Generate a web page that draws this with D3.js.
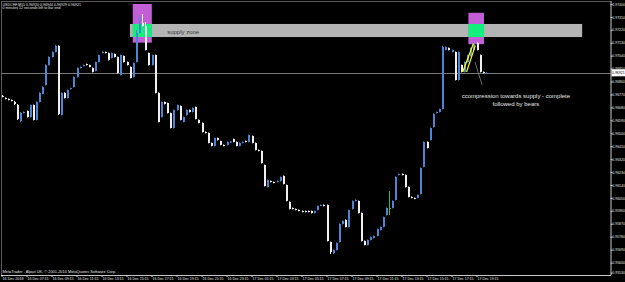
<!DOCTYPE html>
<html><head><meta charset="utf-8">
<script src="https://cdn.jsdelivr.net/npm/d3@7"></script>
<style>html,body{margin:0;padding:0;background:#000;overflow:hidden}svg{display:block}</style>
</head><body><svg id="c" width="625" height="282"></svg>
<script>
const opens = [0.96760,0.96746,0.96739,0.96732,0.96718,0.96697,0.96586,0.96641,0.96655,0.96613,
0.96697,0.96593,0.96718,0.96774,0.96836,0.96975,0.97031,0.97066,0.97108,0.96627,
0.96781,0.96746,0.96808,0.96822,0.96892,0.96955,0.96968,0.96982,0.96975,0.96955,
0.96934,0.96996,0.97059,0.97066,0.97059,0.97024,0.97052,0.97031,0.96906,0.97038,
0.96996,0.96962,0.96892,0.96996,0.97198,0.97268,0.97247,0.97059,0.96975,0.97045,
0.96781,0.96613,0.96718,0.96711,0.96641,0.96537,0.96662,0.96690,0.96579,0.96627,
0.96662,0.96648,0.96683,0.96593,0.96572,0.96509,0.96502,0.96433,0.96412,0.96467,
0.96446,0.96419,0.96419,0.96436,0.96460,0.96440,0.96412,0.96433,0.96446,0.96440,
0.96481,0.96433,0.96384,0.96377,0.96279,0.96126,0.96168,0.96161,0.96161,0.96168,
0.96203,0.96140,0.96022,0.95980,0.95973,0.95966,0.95959,0.95959,0.95959,0.95959,
0.95945,0.95966,0.95997,0.96001,0.96001,0.95743,0.95667,0.95688,0.95743,0.95869,
0.95897,0.95848,0.95973,0.96029,0.96029,0.95945,0.95750,0.95722,0.95757,0.95771,
0.95785,0.95827,0.95848,0.95931,0.95980,0.95980,0.96036,0.96210,0.96217,0.96210,
0.96126,0.96057,0.96050,0.96050,0.96078,0.96266,0.96440,0.96453,0.96544,0.96641,
0.96648,0.96669,0.97080,0.97094,0.97066,0.97066,0.96871,0.96975,0.96927,0.96996,
0.97038,0.97080,0.97129,0.97045,0.96927,0.96915];
const closes = [0.96753,0.96739,0.96732,0.96725,0.96704,0.96600,0.96641,0.96648,0.96613,0.96697,
0.96593,0.96718,0.96781,0.96822,0.96975,0.97031,0.97066,0.97108,0.96634,0.96781,
0.96746,0.96801,0.96815,0.96892,0.96955,0.96962,0.96975,0.96975,0.96962,0.96927,
0.96996,0.97045,0.97066,0.97059,0.97010,0.97059,0.97031,0.96920,0.97045,0.96996,
0.96975,0.96885,0.96989,0.97198,0.97268,0.97247,0.97080,0.96975,0.97045,0.96781,
0.96579,0.96718,0.96704,0.96641,0.96537,0.96662,0.96697,0.96593,0.96613,0.96662,
0.96648,0.96676,0.96600,0.96572,0.96509,0.96502,0.96433,0.96412,0.96467,0.96453,
0.96419,0.96412,0.96440,0.96443,0.96440,0.96412,0.96433,0.96440,0.96440,0.96488,
0.96433,0.96384,0.96377,0.96293,0.96133,0.96175,0.96161,0.96155,0.96168,0.96196,
0.96147,0.96029,0.95973,0.95973,0.95966,0.95960,0.95952,0.95952,0.95952,0.95945,
0.95959,0.95994,0.96001,0.95994,0.95750,0.95674,0.95688,0.95736,0.95869,0.95890,
0.95848,0.95966,0.96029,0.96036,0.95945,0.95750,0.95722,0.95757,0.95778,0.95785,
0.95834,0.95848,0.95917,0.95980,0.95980,0.96029,0.96196,0.96217,0.96210,0.96126,
0.96057,0.96050,0.96044,0.96071,0.96259,0.96440,0.96398,0.96537,0.96634,0.96648,
0.96669,0.97101,0.97101,0.97080,0.97080,0.96871,0.97066,0.96927,0.96996,0.97045,
0.97094,0.97129,0.97080,0.96927,0.96920,0.96921];
const highs = [0.96767,0.96750,0.96742,0.96735,0.96725,0.96704,0.96648,0.96652,0.96658,0.96700,
0.96700,0.96722,0.96785,0.96826,0.96980,0.97035,0.97070,0.97115,0.97112,0.96785,
0.96785,0.96805,0.96818,0.96895,0.96958,0.96966,0.96978,0.96985,0.96978,0.96958,
0.96999,0.97048,0.97070,0.97069,0.97062,0.97062,0.97055,0.97034,0.97048,0.97041,
0.96999,0.96965,0.96992,0.97219,0.97323,0.97330,0.97275,0.97062,0.97048,0.97048,
0.96784,0.96721,0.96721,0.96714,0.96644,0.96665,0.96700,0.96693,0.96616,0.96665,
0.96665,0.96679,0.96686,0.96596,0.96575,0.96512,0.96505,0.96436,0.96470,0.96470,
0.96449,0.96422,0.96443,0.96446,0.96463,0.96443,0.96436,0.96443,0.96449,0.96491,
0.96484,0.96436,0.96387,0.96380,0.96282,0.96178,0.96171,0.96164,0.96171,0.96199,
0.96206,0.96143,0.96025,0.95983,0.95976,0.95969,0.95962,0.95962,0.95962,0.95962,
0.95962,0.95997,0.96004,0.96004,0.96004,0.95746,0.95691,0.95739,0.95872,0.95893,
0.95900,0.95969,0.96032,0.96039,0.96032,0.95948,0.95753,0.95760,0.95781,0.95788,
0.95837,0.95851,0.95920,0.95983,0.96098,0.96032,0.96199,0.96220,0.96220,0.96213,
0.96129,0.96060,0.96053,0.96074,0.96262,0.96443,0.96443,0.96540,0.96637,0.96651,
0.96672,0.97108,0.97104,0.97097,0.97083,0.97069,0.97069,0.96978,0.96999,0.97048,
0.97097,0.97136,0.97132,0.97048,0.96930,0.96924];
const lows = [0.96750,0.96736,0.96729,0.96722,0.96697,0.96593,0.96579,0.96638,0.96610,0.96610,
0.96590,0.96590,0.96715,0.96771,0.96833,0.96972,0.97028,0.97063,0.96627,0.96624,
0.96743,0.96743,0.96805,0.96819,0.96889,0.96952,0.96965,0.96972,0.96959,0.96924,
0.96931,0.96993,0.97056,0.97056,0.97007,0.97021,0.97028,0.96917,0.96903,0.96993,
0.96972,0.96882,0.96889,0.96993,0.97195,0.97244,0.97077,0.96972,0.96972,0.96778,
0.96576,0.96610,0.96701,0.96638,0.96534,0.96534,0.96659,0.96590,0.96576,0.96624,
0.96645,0.96645,0.96597,0.96569,0.96506,0.96499,0.96430,0.96409,0.96409,0.96450,
0.96416,0.96409,0.96416,0.96433,0.96437,0.96409,0.96409,0.96430,0.96437,0.96437,
0.96430,0.96381,0.96374,0.96290,0.96130,0.96123,0.96158,0.96152,0.96158,0.96165,
0.96144,0.96026,0.95970,0.95970,0.95963,0.95957,0.95949,0.95949,0.95949,0.95942,
0.95942,0.95963,0.95994,0.95991,0.95747,0.95660,0.95660,0.95685,0.95740,0.95866,
0.95845,0.95845,0.95970,0.96026,0.95942,0.95747,0.95719,0.95719,0.95754,0.95768,
0.95782,0.95824,0.95845,0.95928,0.95931,0.95977,0.96033,0.96207,0.96207,0.96123,
0.96054,0.96047,0.96041,0.96047,0.96075,0.96263,0.96395,0.96450,0.96541,0.96638,
0.96645,0.96666,0.97077,0.97077,0.97063,0.96868,0.96868,0.96924,0.96924,0.96993,
0.97035,0.97077,0.97077,0.96924,0.96917,0.96912];
const priceTicks = [0.97400,0.97310,0.97220,0.97130,0.97040,0.96950,0.96860,0.96770,0.96680,0.96590,
0.96500,0.96410,0.96320,0.96230,0.96140,0.96050,0.95960,0.95870,0.95780,0.95690,0.95600,0.95530];
const timeLabels = ["16 Dec 2018","16 Dec 07:15","16 Dec 09:15","16 Dec 11:15","16 Dec 13:15",
"16 Dec 15:15","16 Dec 17:15","16 Dec 19:15","16 Dec 21:15","16 Dec 23:15","17 Dec 01:15",
"17 Dec 03:15","17 Dec 05:15","17 Dec 07:15","17 Dec 09:15","17 Dec 11:15","17 Dec 13:15",
"17 Dec 15:15","17 Dec 17:15","17 Dec 19:15"];
const barsPerLabel = 8;
const currentPrice = 0.96921;
const headerLines = ["USDCHF,M15  0.96920 0.96944 0.96929 0.96921","0 minutes 12 seconds left to bar end"];
const footerText = "MetaTrader - Alpari UK, \u00a9 2001-2010 MetaQuotes Software Corp.";
// annotation objects in bar-index / price units
const supplyZone = {x0: 41.1, x1: 185.8, p0: 0.97261, p1: 0.97170, label: "supply zone", lx: 53, lp: 0.97188};
const boxes = [{x0: 42.0, x1: 48.1, p0: 0.97400, p1: 0.97131}, {x0: 149.4, x1: 154.4, p0: 0.97339, p1: 0.97120}];
const yellowLines = [[[147.6, 0.96927],[151.0, 0.97125]],[[148.8, 0.96927],[151.6, 0.97110]]];
const pointer = [[151.5, 0.96996],[153.8, 0.96836]];
const noteLines = ["ccompression towards supply - complete","followed by bears"];
const noteX = 164.6, notePrices = [0.96745, 0.96690];

const W = 625, H = 282, right = 610.5, bottom = 275;
const svg = d3.select("#c");
const x = d3.scaleLinear().domain([0, 195]).range([1.5, 610.9]);
const y = d3.scaleLinear().domain([0.95510, 0.97400]).range([275.5, 4]);
const font = "Liberation Sans, Arial, sans-serif";

svg.append("rect").attr("width", W).attr("height", H).attr("fill", "#000");

// supply zone
svg.append("rect").attr("x", x(supplyZone.x0)).attr("y", y(supplyZone.p0))
  .attr("width", x(supplyZone.x1) - x(supplyZone.x0)).attr("height", y(supplyZone.p1) - y(supplyZone.p0))
  .attr("fill", "#b4b4b4");
// purple boxes and green overlaps
boxes.forEach(b => {
  svg.append("rect").attr("x", x(b.x0)).attr("y", y(b.p0)).attr("width", x(b.x1) - x(b.x0))
    .attr("height", y(b.p1) - y(b.p0)).attr("fill", "#c35fd6");
  svg.append("rect").attr("x", x(b.x0)).attr("y", y(supplyZone.p0)).attr("width", x(b.x1) - x(b.x0))
    .attr("height", y(supplyZone.p1) - y(supplyZone.p0)).attr("fill", "#10f07a");
});
svg.append("text").attr("x", x(supplyZone.lx)).attr("y", y(supplyZone.lp)).text(supplyZone.label)
  .attr("font-family", font).attr("font-size", 6).attr("fill", "#3a3a3a");

// current price line
svg.append("line").attr("x1", 1).attr("x2", right).attr("y1", Math.round(y(currentPrice)) + 0.5)
  .attr("y2", Math.round(y(currentPrice)) + 0.5).attr("stroke", "#7a7a7a").attr("stroke-width", 1);

// candles
const data = opens.map((o, i) => ({i, o, c: closes[i], h: highs[i], l: lows[i]}));
const col = d => d.c > d.o ? "#4a86d6" : (d.c < d.o ? "#f0f0f0" : "#2ec02e");
const g = svg.append("g");
g.selectAll("line.w").data(data).join("line")
  .attr("x1", d => Math.round(x(d.i)) + 0.5).attr("x2", d => Math.round(x(d.i)) + 0.5)
  .attr("y1", d => y(d.h)).attr("y2", d => y(d.l)).attr("stroke", col).attr("stroke-width", 1);
g.selectAll("rect.b").data(data).join("rect")
  .attr("x", d => Math.round(x(d.i)))
  .attr("y", d => Math.min(y(d.o), y(d.c)))
  .attr("width", 2)
  .attr("height", d => Math.max(1, Math.abs(y(d.o) - y(d.c))))
  .attr("fill", col);

// yellow compression lines
yellowLines.forEach(l => {
  svg.append("line").attr("x1", x(l[0][0])).attr("y1", y(l[0][1])).attr("x2", x(l[1][0])).attr("y2", y(l[1][1]))
    .attr("stroke", "#ffff00").attr("stroke-width", 1.2);
});
svg.append("line").attr("x1", x(pointer[0][0])).attr("y1", y(pointer[0][1])).attr("x2", x(pointer[1][0])).attr("y2", y(pointer[1][1]))
  .attr("stroke", "#8a8a8a").attr("stroke-width", 0.8);
noteLines.forEach((t, k) => {
  svg.append("text").attr("x", x(noteX)).attr("y", y(notePrices[k])).attr("text-anchor", "middle")
    .attr("font-family", font).attr("font-size", 6).attr("fill", "#e6e6e6").text(t);
});

// frame
svg.append("line").attr("x1", 1).attr("x2", right).attr("y1", 1.5).attr("y2", 1.5).attr("stroke", "#5a5a5a");
svg.append("line").attr("x1", 1.5).attr("x2", 1.5).attr("y1", 1).attr("y2", bottom).attr("stroke", "#5a5a5a");

// right axis
const ya = d3.axisRight(y).tickValues(priceTicks).tickSize(2).tickPadding(-0.2).tickFormat(d3.format(".5f"));
const yg = svg.append("g").attr("transform", `translate(${right},0)`).call(ya)
  .attr("font-size", 3.5).attr("font-family", font);
yg.select(".domain").attr("stroke", "#c8c8c8").attr("d", `M0.5,1V${bottom}`);
yg.selectAll("line").attr("stroke", "#c8c8c8");
yg.selectAll("text").attr("font-family", font).attr("font-size", 3.5).attr("fill", "#e0e0e0");

// bottom axis
const xa = d3.axisBottom(x).tickValues(timeLabels.map((t, k) => k * barsPerLabel)).tickSize(2).tickPadding(0.3)
  .tickFormat((d, k) => timeLabels[k]);
const xg = svg.append("g").attr("transform", `translate(0,${bottom})`).call(xa)
  .attr("font-size", 4).attr("font-family", font);
xg.select(".domain").attr("stroke", "#c8c8c8").attr("d", `M1,0.5H${right + 0.5}`);
xg.selectAll("line").attr("stroke", "#c8c8c8");
xg.selectAll("text").attr("font-family", font).attr("font-size", 4).attr("fill", "#e0e0e0")
  .attr("text-anchor", "start").attr("dx", 0.5)
  .attr("textLength", 21).attr("lengthAdjust", "spacingAndGlyphs");

// current price label
const cy = y(currentPrice);
svg.append("rect").attr("x", right + 1).attr("y", cy - 3.5).attr("width", 13.5).attr("height", 7).attr("fill", "#ffffff");
svg.append("text").attr("x", right + 1.5).attr("y", cy + 1.3).attr("font-family", font).attr("font-size", 3.5)
  .attr("fill", "#000").text(d3.format(".5f")(currentPrice));

// header / footer
headerLines.forEach((t, k) => {
  svg.append("text").attr("x", 2.5).attr("y", 6 + k * 3.4).attr("font-family", font).attr("font-size", 3.6)
    .attr("fill", "#e0e0e0").text(t);
});
svg.append("text").attr("x", 2.5).attr("y", 273.2).attr("font-family", font).attr("font-size", 3.9)
  .attr("fill", "#e0e0e0").text(footerText);
</script></body></html>
